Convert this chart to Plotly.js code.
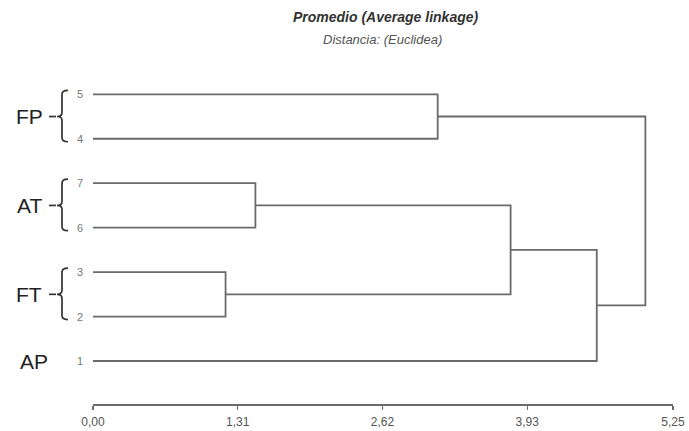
<!DOCTYPE html>
<html>
<head>
<meta charset="utf-8">
<script src="https://cdn.plot.ly/plotly-3.0.1.min.js"></script>
<style>html,body{margin:0;padding:0;background:#fff}#chart{width:689px;height:431px}</style>
</head>
<body>
<div id="chart"></div>
<script>
// ---- data ----
const leafOrder = ['1', '2', '3', '6', '7', '4', '5'];          // bottom to top
const mergeLeft = ['3', '7', '5', 'm2', 'm4', 'm3'];
const mergeRight = ['2', '6', '4', 'm1', '1', 'm5'];
const mergeHeight = [1.20, 1.47, 3.12, 3.78, 4.56, 5.00];
const groupNames = ['FP', 'AT', 'FT', 'AP'];
const groupLeaves = [['5', '4'], ['7', '6'], ['3', '2'], ['1']];
const tickVals = [0, 1.31, 2.62, 3.93, 5.25];
const tickText = ['0,00', '1,31', '2,62', '3,93', '5,25'];
const titleText = 'Promedio (Average linkage)';
const subtitleText = 'Distancia: (Euclidea)';

// ---- layout constants ----
const W = 689, H = 431;
const ML = 93, MR = 16, MT = 75, MB = 27;
const plotW = W - ML - MR;
const yRange = [-0.967, 6.434];
const pxX = p => (p - ML) / plotW;           // pixel x -> paper x
const pxPerY = (H - MT - MB) / (yRange[1] - yRange[0]);
const dy = p => p / pxPerY;                  // pixel length -> data y
const FONT = 'Liberation Sans, Arial, sans-serif';

// ---- build dendrogram ----
const pos = {};
leafOrder.forEach((l, i) => { pos[l] = { x: 0, y: i }; });
const lx = [], ly = [];
mergeHeight.forEach((h, i) => {
  const a = pos[mergeLeft[i]], b = pos[mergeRight[i]];
  lx.push(a.x, h, h, b.x, null);
  ly.push(a.y, a.y, b.y, b.y, null);
  pos['m' + (i + 1)] = { x: h, y: (a.y + b.y) / 2 };
});

const lineColor = '#6a6a6a';
const traces = [{
  x: lx, y: ly, type: 'scatter', mode: 'lines',
  line: { color: lineColor, width: 1.8 }, hoverinfo: 'skip', showlegend: false
}];

const annotations = [];
const shapes = [];

// leaf labels
leafOrder.forEach((l, i) => {
  annotations.push({
    x: pxX(85), xref: 'paper', y: i, yref: 'y', text: l, showarrow: false,
    xanchor: 'right', yanchor: 'middle',
    font: { family: FONT, size: 11, color: '#777' }
  });
});

// group labels and braces
groupNames.forEach((g, gi) => {
  const ys = groupLeaves[gi].map(l => pos[l].y);
  const yT = Math.max(...ys), yB = Math.min(...ys);
  const yM = (yT + yB) / 2;
  annotations.push({
    x: pxX(g === 'AP' ? 34 : 29), xref: 'paper', y: yM, yref: 'y', text: g, showarrow: false,
    xanchor: 'center', yanchor: 'middle',
    font: { family: FONT, size: 21, color: '#222' }
  });
  if (ys.length > 1) {
    const xv = pxX(62), xr = pxX(68), xm = pxX(57);
    const t = yT + dy(4), b = yB - dy(3);
    const c = dy(4);
    const path = `M ${xr},${t} Q ${xv},${t} ${xv},${t - c} L ${xv},${yM + c} Q ${xv},${yM} ${xm},${yM} ` +
                 `Q ${xv},${yM} ${xv},${yM - c} L ${xv},${b + c} Q ${xv},${b} ${xr},${b}`;
    shapes.push({ type: 'path', xref: 'paper', yref: 'y', path: path,
      line: { color: '#333', width: 1.7 } });
    shapes.push({ type: 'line', xref: 'paper', yref: 'y', x0: pxX(49), x1: pxX(56), y0: yM, y1: yM,
      line: { color: '#333', width: 1.7 } });
  }
});

// titles
annotations.push({
  x: pxX(386), xref: 'paper', y: 1 + (MT - 17) / (H - MT - MB), yref: 'paper', text: '<b><i>' + titleText + '</i></b>',
  showarrow: false, xanchor: 'center', yanchor: 'middle',
  font: { family: FONT, size: 14, color: '#333' }
});
annotations.push({
  x: pxX(382), xref: 'paper', y: 1 + (MT - 39) / (H - MT - MB), yref: 'paper', text: '<i>' + subtitleText + '</i>',
  showarrow: false, xanchor: 'center', yanchor: 'middle',
  font: { family: FONT, size: 13, color: '#555' }
});

const layout = {
  width: W, height: H,
  margin: { l: ML, r: MR, t: MT, b: MB, pad: 0 },
  paper_bgcolor: '#fff', plot_bgcolor: '#fff',
  showlegend: false,
  xaxis: {
    range: [0, 5.25], tickvals: tickVals, ticktext: tickText,
    showline: true, linecolor: lineColor, linewidth: 1.5,
    ticks: 'outside', ticklen: 4, tickcolor: lineColor, tickwidth: 1.2,
    ticklabelstandoff: 2,
    showgrid: false, zeroline: false, fixedrange: true,
    tickfont: { family: FONT, size: 12, color: '#555' }
  },
  yaxis: { range: yRange, visible: false, showgrid: false, zeroline: false, fixedrange: true },
  annotations: annotations,
  shapes: shapes
};

Plotly.newPlot('chart', traces, layout, { staticPlot: true, displayModeBar: false });
</script>
</body>
</html>
